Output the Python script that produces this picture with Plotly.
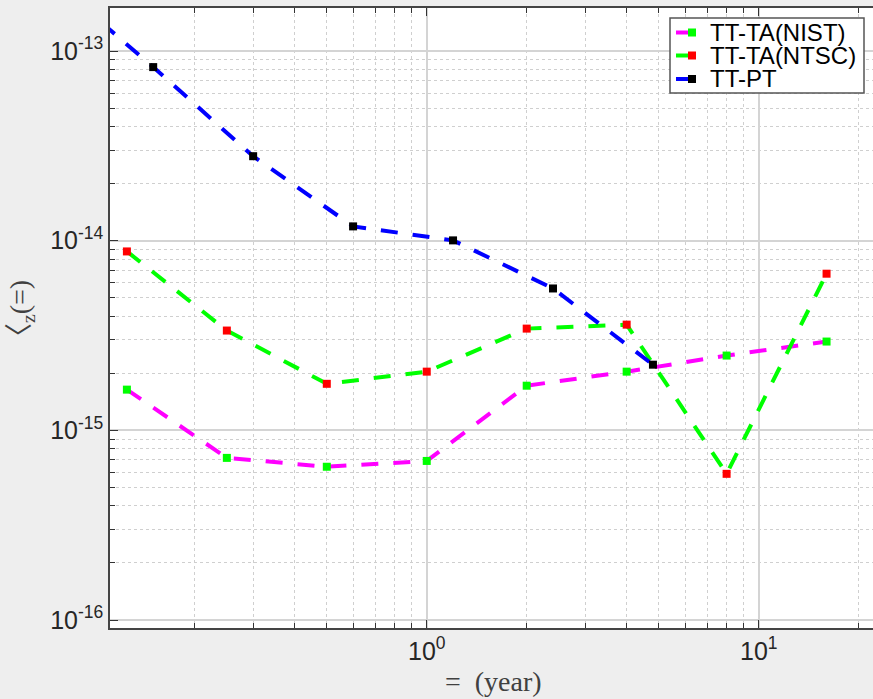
import plotly.graph_objects as go

# ---- data ----
tau_ta = [0.125, 0.25, 0.5, 1, 2, 4, 8, 16]
nist = [1.64e-15, 7.16e-16, 6.43e-16, 6.9e-16, 1.72e-15, 2.04e-15, 2.48e-15, 2.94e-15]
ntsc = [8.78e-15, 3.36e-15, 1.76e-15, 2.04e-15, 3.44e-15, 3.61e-15, 5.9e-16, 6.7e-15]
tau_pt = [0.075, 0.15, 0.3, 0.6, 1.2, 2.4, 4.8]
pt = [2.34e-13, 8.23e-14, 2.79e-14, 1.19e-14, 1.004e-14, 5.6e-15, 2.22e-15]

series_names = ["TT-TA(NIST)", "TT-TA(NTSC)", "TT-PT"]
line_colors = ["#ff00ff", "#00ff00", "#0000ff"]
marker_colors = ["#00ff00", "#ff0000", "#000000"]

x_tickvals = [1, 10]
x_ticktext = ["10<sup>0</sup>", "10<sup>1</sup>"]
y_tickvals = [1e-16, 1e-15, 1e-14, 1e-13]
y_ticktext = ["10<sup>-16</sup>", "10<sup>-15</sup>", "10<sup>-14</sup>", "10<sup>-13</sup>"]

DASH = "17px,15px"
W, H = 873, 699
ML, MR, MT, MB = 110, 0, 8, 71
PW, PH = W - ML - MR, H - MT - MB


def px(xp):
    return (xp - ML) / PW


def py(yp):
    return (H - MB - yp) / PH


fig = go.Figure()
for xs, ys, nm, lc, mc in zip([tau_ta, tau_ta, tau_pt], [nist, ntsc, pt],
                              series_names, line_colors, marker_colors):
    fig.add_trace(go.Scatter(x=xs, y=ys, name=nm, mode="lines+markers", showlegend=False,
                             line=dict(color=lc, width=4, dash=DASH),
                             marker=dict(symbol="square", size=8, color=mc)))

axis_common = dict(
    showline=True, linecolor="#444444", linewidth=1.5,
    ticks="inside", ticklen=8, tickwidth=1.2, tickcolor="#333333",
    tickfont=dict(family="Liberation Sans, Arial, sans-serif", size=25, color="#262626"),
    showgrid=True, gridcolor="#d4d4d4", gridwidth=2,
    zeroline=False,
)

fig.update_xaxes(type="log", range=[-0.954, 1.344], tickvals=x_tickvals, ticktext=x_ticktext,
                 mirror="allticks",
                 minor=dict(dtick="D1", ticks="inside", ticklen=5, tickcolor="#333333",
                            showgrid=True, gridcolor="#cfcfcf", griddash="dot", gridwidth=1),
                 **axis_common)
fig.update_yaxes(type="log", range=[-16.042, -12.773], tickvals=y_tickvals, ticktext=y_ticktext,
                 mirror=False,
                 minor=dict(dtick="D1", ticks="inside", ticklen=5, tickcolor="#333333",
                            showgrid=True, gridcolor="#cfcfcf", griddash="dot", gridwidth=1),
                 **axis_common)

# ---- legend box built from shapes + annotations ----
shapes = [dict(type="rect", xref="paper", yref="paper",
               x0=px(670), x1=px(864), y0=py(93), y1=py(18),
               fillcolor="#ffffff", line=dict(color="#555555", width=1.5), layer="above")]
annotations = []
row_y = [32.5, 55.5, 79]
for ry, nm, lc, mc in zip(row_y, series_names, line_colors, marker_colors):
    shapes.append(dict(type="line", xref="paper", yref="paper",
                       x0=px(676), x1=px(689), y0=py(ry), y1=py(ry),
                       line=dict(color=lc, width=4), layer="above"))
    shapes.append(dict(type="rect", xref="paper", yref="paper",
                       x0=px(688), x1=px(696), y0=py(ry + 4), y1=py(ry - 4),
                       fillcolor=mc, line=dict(width=0), layer="above"))
    annotations.append(dict(text=nm, xref="paper", yref="paper", x=px(708), y=py(ry),
                            xanchor="left", yanchor="middle", showarrow=False,
                            font=dict(family="Liberation Sans, Arial, sans-serif", size=24,
                                      color="#000000")))

annotations += [
    dict(text="=  (year)", xref="paper", yref="paper", x=px(494), y=0, yshift=-53,
         xanchor="center", yanchor="middle", showarrow=False,
         font=dict(family="Liberation Serif, Times New Roman, serif", size=28, color="#404040")),
    dict(text="〈<sub>z</sub>(=)", xref="paper", yref="paper", x=0, xshift=-89, y=py(316),
         xanchor="center", yanchor="middle", showarrow=False, textangle=-90,
         font=dict(family="Liberation Serif, Noto Sans CJK SC, serif", size=28, color="#404040")),
]

fig.update_layout(
    width=W, height=H,
    margin=dict(l=ML, r=MR, t=MT, b=MB),
    paper_bgcolor="#eeeeee", plot_bgcolor="#ffffff",
    showlegend=False,
    shapes=shapes,
    annotations=annotations,
)

fig.write_html("out.html")
